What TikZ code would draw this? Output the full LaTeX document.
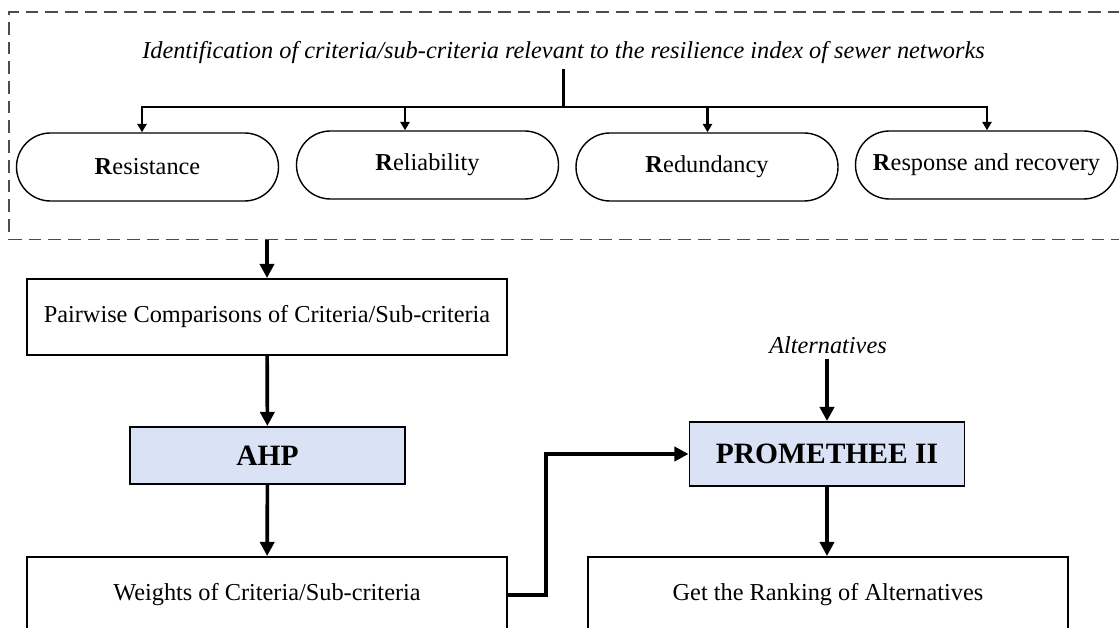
\documentclass[tikz,border=0pt]{standalone}
\usepackage{fontspec}
\setmainfont{Liberation Serif}
\usetikzlibrary{arrows.meta}

\definecolor{methodblue}{RGB}{218,227,245}
\newcommand{\figfont}{\fontsize{17.3}{20}\selectfont}
\newcommand{\bigbold}{\fontsize{21}{24}\selectfont\bfseries}

\tikzset{
  stagebox/.style={draw, line width=1.4pt, font=\figfont, minimum width=12cm, minimum height=1.9cm},
  methodbox/.style={draw, line width=1.4pt, fill=methodblue, font=\bigbold, minimum width=6.875cm},
  pillar/.style={draw, line width=1pt, rounded corners=0.85cm, font=\figfont, minimum width=6.55cm, minimum height=1.7cm},
  flow/.style={-{Triangle[length=10pt,width=10pt]}, line width=2.6pt},
  branch/.style={-{Triangle[length=6pt,width=6.5pt]}, line width=1.5pt}
}

\begin{document}
\begin{tikzpicture}
      \useasboundingbox (0, 0) rectangle (27.975, 15.675);
      \clip (0, 0) rectangle (27.975, 15.675);

      \node[draw=black!70, line width=1pt, dash pattern=on 9pt off 5pt, minimum width=28.275cm, minimum height=5.6875cm] (frame) at (14.3625, 12.53125) {};
      \node[font=\figfont\itshape] (title) at (14.0875, 14.35) {Identification of criteria/sub-criteria relevant to the resilience index of sewer networks};

      \node[pillar] (res) at (3.6875, 11.5) {\textbf{R}esistance};
      \node[pillar] (rel) at (10.6875, 11.55) {\textbf{R}eliability};
      \node[pillar] (red) at (17.675, 11.5) {\textbf{R}edundancy};
      \node[pillar] (rsp) at (24.6625, 11.55) {\textbf{R}esponse and recovery};

      \coordinate (fork) at (14.0875, 13.0);
      \coordinate (b1) at (3.55, 13.0);
      \coordinate (b2) at (10.125, 13.0);
      \coordinate (b3) at (17.6875, 13.0);
      \coordinate (b4) at (24.675, 13.0);

      \draw[line width=1.5pt] (title.south) -- (fork);
      \draw[branch] (b2) -- (b1) -- (b1 |- res.north);
      \draw[branch] (b3) -- (b4) -- (b4 |- rsp.north);
      \draw[line width=1.5pt] (b2) -- (b3);
      \draw[branch] (b2) -- (b2 |- rel.north);
      \draw[branch] (b3) -- (b3 |- red.north);

      \node[stagebox] (pair) at (6.675, 7.75) {Pairwise Comparisons of Criteria/Sub-criteria};
      \node[methodbox, minimum height=1.425cm] (ahp) at (6.6875, 4.2875) {AHP};
      \node[stagebox] (weights) at (6.675, 0.8) {Weights of Criteria/Sub-criteria};

      \node[font=\figfont\itshape] (alt) at (20.7, 7.05) {Alternatives};
      \node[methodbox, minimum height=1.6cm] (prom) at (20.675, 4.325) {PROMETHEE II};
      \node[stagebox] (rank) at (20.7, 0.8) {Get the Ranking of Alternatives};

      \draw[flow] (frame.south -| pair.north) -- (pair.north);
      \draw[flow] (pair) -- (ahp);
      \draw[flow] (ahp) -- (weights);
      \draw[flow] (weights.east) -- ++(0.95, 0) |- (prom.west);
      \draw[flow] (alt.south -| prom.north) -- (prom.north);
      \draw[flow] (prom.south) -- (prom.south |- rank.north);
\end{tikzpicture}
\end{document}
